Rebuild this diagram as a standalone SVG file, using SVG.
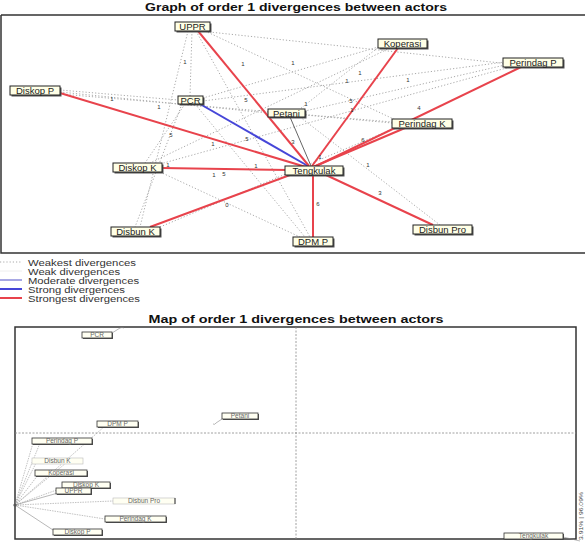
<svg xmlns="http://www.w3.org/2000/svg" width="585" height="544" viewBox="0 0 585 544">
<style>
.title{font-family:"Liberation Sans",Arial,sans-serif;font-weight:bold;font-size:11px;fill:#111}
.nb{fill:#ffffe6;stroke:#222;stroke-width:1}
.sh{fill:#555}
.nt{font-family:"Liberation Sans",Arial,sans-serif;font-size:9.5px;fill:#222;text-anchor:middle}
.nb2{fill:#fffff2;stroke:#333;stroke-width:0.8}
.nt2{font-family:"Liberation Sans",Arial,sans-serif;font-size:6.5px;fill:#666;text-anchor:middle}
.dot{stroke:#aaa;stroke-width:1;stroke-dasharray:1.2 2;fill:none}
.red{stroke:#e8434c;stroke-width:2;fill:none}
.blue{stroke:#4646d8;stroke-width:2;fill:none}
.gray{stroke:#666;stroke-width:1;fill:none}
.el{font-family:"Liberation Sans",Arial,sans-serif;font-size:6px;fill:#333;text-anchor:middle}
.lg{font-family:"Liberation Sans",Arial,sans-serif;font-size:8.4px;fill:#333}
.frame{fill:none;stroke:#333;stroke-width:1.5}
.axis{stroke:#888;stroke-width:0.8;stroke-dasharray:2 1.5}
.ml{stroke:#888;stroke-width:0.6;fill:none}
.mld{stroke:#999;stroke-width:0.6;stroke-dasharray:1.5 1;fill:none}
</style>

<text class="title" x="296" y="11" text-anchor="middle" textLength="302" lengthAdjust="spacingAndGlyphs">Graph of order 1 divergences between actors</text>
<path class="frame" d="M1 15 H585 M1 15 V253 H585"/>

<g id="connectors">
 <g id="weakest">
  <line class="dot" x1="192" y1="31" x2="190" y2="96"/>
  <line class="dot" x1="200" y1="31" x2="510" y2="64"/>
  <line class="dot" x1="205" y1="31" x2="400" y2="122"/>
  <line class="dot" x1="188" y1="31" x2="140" y2="227"/>
  <line class="dot" x1="196" y1="31" x2="310" y2="237"/>
  <line class="dot" x1="385" y1="45" x2="203" y2="98"/>
  <line class="dot" x1="390" y1="48" x2="150" y2="163"/>
  <line class="dot" x1="380" y1="46" x2="300" y2="109"/>
  <line class="dot" x1="505" y1="62" x2="203" y2="101"/>
  <line class="dot" x1="505" y1="65" x2="305" y2="111"/>
  <line class="dot" x1="510" y1="67" x2="160" y2="164"/>
  <line class="dot" x1="60" y1="90" x2="178" y2="100"/>
  <line class="dot" x1="60" y1="92" x2="268" y2="113"/>
  <line class="dot" x1="60" y1="94" x2="392" y2="122"/>
  <line class="dot" x1="185" y1="104" x2="145" y2="163"/>
  <line class="dot" x1="182" y1="104" x2="135" y2="227"/>
  <line class="dot" x1="195" y1="104" x2="305" y2="237"/>
  <line class="dot" x1="300" y1="117" x2="440" y2="225"/>
  <line class="dot" x1="305" y1="115" x2="392" y2="123"/>
  <line class="dot" x1="160" y1="172" x2="300" y2="237"/>
  <line class="dot" x1="160" y1="227" x2="395" y2="128"/>
 </g>
 <g id="weak">
  <line class="gray" x1="290" y1="117" x2="311" y2="166"/>
 </g>
 <g id="strong">
  <line class="blue" x1="200" y1="104" x2="308" y2="166"/>
 </g>
 <g id="strongest">
  <line class="red" x1="198" y1="31" x2="309" y2="166"/>
  <line class="red" x1="398" y1="48" x2="312" y2="166"/>
  <line class="red" x1="521" y1="67" x2="314" y2="167"/>
  <line class="red" x1="405" y1="128" x2="313" y2="167"/>
  <line class="red" x1="60" y1="93" x2="306" y2="167"/>
  <line class="red" x1="162" y1="168" x2="288" y2="170"/>
  <line class="red" x1="150" y1="227" x2="290" y2="175"/>
  <line class="red" x1="313" y1="237" x2="313" y2="175"/>
  <line class="red" x1="433" y1="225" x2="326" y2="175"/>
 </g>
 <g id="edge-labels">
  <text class="el" x="185" y="64">1</text>
  <text class="el" x="243" y="66">1</text>
  <text class="el" x="293" y="65">1</text>
  <text class="el" x="360" y="75">1</text>
  <text class="el" x="347" y="83">1</text>
  <text class="el" x="408" y="82">1</text>
  <text class="el" x="112" y="101">1</text>
  <text class="el" x="159" y="109">1</text>
  <text class="el" x="246" y="102">5</text>
  <text class="el" x="306" y="106">1</text>
  <text class="el" x="351" y="103">5</text>
  <text class="el" x="352" y="112">1</text>
  <text class="el" x="419" y="110">4</text>
  <text class="el" x="171" y="137">5</text>
  <text class="el" x="213" y="146">1</text>
  <text class="el" x="247" y="141">5</text>
  <text class="el" x="293" y="144">3</text>
  <text class="el" x="363" y="142">6</text>
  <text class="el" x="320" y="159">1</text>
  <text class="el" x="368" y="167">1</text>
  <text class="el" x="168" y="167">1</text>
  <text class="el" x="256" y="168">1</text>
  <text class="el" x="214" y="177">1</text>
  <text class="el" x="224" y="176">5</text>
  <text class="el" x="227" y="207">0</text>
  <text class="el" x="380" y="195">3</text>
  <text class="el" x="318" y="206">6</text>
 </g>
</g>

<g id="node-uppr"><rect class="sh" x="176.5" y="23.5" width="35" height="9"/><rect class="nb" x="175" y="22" width="35" height="9"/><text class="nt" x="192.5" y="30">UPPR</text></g>
<g id="node-koperasi"><rect class="sh" x="379.5" y="40.5" width="49" height="9"/><rect class="nb" x="378" y="39" width="49" height="9"/><text class="nt" x="402.5" y="47">Koperasi</text></g>
<g id="node-perindag-p"><rect class="sh" x="504.5" y="59.5" width="60" height="9"/><rect class="nb" x="503" y="58" width="60" height="9"/><text class="nt" x="533" y="66">Perindag P</text></g>
<g id="node-diskop-p"><rect class="sh" x="11.5" y="87.5" width="50" height="9"/><rect class="nb" x="10" y="86" width="50" height="9"/><text class="nt" x="35" y="94">Diskop P</text></g>
<g id="node-pcr"><rect class="sh" x="179.5" y="97.5" width="25" height="8"/><rect class="nb" x="178" y="96" width="25" height="8"/><text class="nt" x="190.5" y="103.5">PCR</text></g>
<g id="node-petani"><rect class="sh" x="269.5" y="110.5" width="37" height="8"/><rect class="nb" x="268" y="109" width="37" height="8"/><text class="nt" x="286.5" y="116.5">Petani</text></g>
<g id="node-perindag-k"><rect class="sh" x="393.5" y="120.5" width="60" height="9"/><rect class="nb" x="392" y="119" width="60" height="9"/><text class="nt" x="422" y="127">Perindag K</text></g>
<g id="node-diskop-k"><rect class="sh" x="114.5" y="164.5" width="49" height="9"/><rect class="nb" x="113" y="163" width="49" height="9"/><text class="nt" x="137.5" y="171">Diskop K</text></g>
<g id="node-tengkulak"><rect class="sh" x="286.5" y="167.5" width="58" height="9"/><rect class="nb" x="285" y="166" width="58" height="9"/><text class="nt" x="314" y="174">Tengkulak</text></g>
<g id="node-disbun-k"><rect class="sh" x="112.5" y="228.5" width="49" height="9"/><rect class="nb" x="111" y="227" width="49" height="9"/><text class="nt" x="135.5" y="235">Disbun K</text></g>
<g id="node-dpm-p"><rect class="sh" x="294.5" y="238.5" width="40" height="9"/><rect class="nb" x="293" y="237" width="40" height="9"/><text class="nt" x="313" y="245">DPM P</text></g>
<g id="node-disbun-pro"><rect class="sh" x="414.5" y="226.5" width="59" height="9"/><rect class="nb" x="413" y="225" width="59" height="9"/><text class="nt" x="442.5" y="233">Disbun Pro</text></g>

<g id="legend">
 <line class="dot" x1="0" y1="262" x2="22" y2="262"/>
 <line x1="0" y1="271" x2="22" y2="271" stroke="#eee" stroke-width="1"/>
 <line x1="0" y1="280" x2="22" y2="280" stroke="#5050c8" stroke-width="1"/>
 <line x1="0" y1="289" x2="22" y2="289" stroke="#4646d8" stroke-width="2"/>
 <line x1="0" y1="298" x2="22" y2="298" stroke="#e8434c" stroke-width="2"/>
 <text class="lg" x="28" y="265.5" textLength="108" lengthAdjust="spacingAndGlyphs">Weakest divergences</text>
 <text class="lg" x="28" y="274.5" textLength="92" lengthAdjust="spacingAndGlyphs">Weak divergences</text>
 <text class="lg" x="28" y="283.5" textLength="111" lengthAdjust="spacingAndGlyphs">Moderate divergences</text>
 <text class="lg" x="28" y="292.5" textLength="97" lengthAdjust="spacingAndGlyphs">Strong divergences</text>
 <text class="lg" x="28" y="301.5" textLength="112" lengthAdjust="spacingAndGlyphs">Strongest divergences</text>
</g>

<text class="title" x="296" y="323" text-anchor="middle" textLength="295" lengthAdjust="spacingAndGlyphs">Map of order 1 divergences between actors</text>
<rect class="frame" x="15" y="327" width="561" height="212"/>
<line class="axis" x1="296" y1="327" x2="296" y2="539"/>
<line class="axis" x1="15" y1="433" x2="576" y2="433"/>
<text transform="translate(583,540) rotate(-90)" font-family="'Liberation Sans',Arial,sans-serif" font-size="6" fill="#444" textLength="48" lengthAdjust="spacingAndGlyphs">3.91% | 96.09%</text>

<g id="map-connectors">
 <path class="ml" d="M112 333 L120 328 q2 -1 4 0"/>
 <path class="ml" d="M222 419 L216 423 q-1 2 -3 1"/>
 <line class="ml" x1="563" y1="537" x2="580" y2="541"/>
 <line class="mld" x1="15" y1="505" x2="105" y2="426"/>
 <line class="mld" x1="15" y1="505" x2="33" y2="443"/>
 <line class="mld" x1="15" y1="505" x2="40" y2="443"/>
 <line class="mld" x1="15" y1="505" x2="66" y2="463"/>
 <line class="mld" x1="15" y1="505" x2="36" y2="463"/>
 <line class="mld" x1="15" y1="505" x2="38" y2="475"/>
 <line class="mld" x1="15" y1="505" x2="65" y2="487"/>
 <line class="ml" x1="15" y1="505" x2="58" y2="493"/>
 <line class="mld" x1="15" y1="505" x2="113" y2="501"/>
 <line class="mld" x1="15" y1="505" x2="105" y2="519"/>
 <line class="ml" x1="15" y1="505" x2="53" y2="530"/>
 <circle cx="15" cy="505" r="1.6" fill="#555"/>
</g>

<g id="map-pcr"><rect class="sh" x="83" y="333" width="30" height="6"/><rect class="nb2" x="82" y="332" width="30" height="6"/><text class="nt2" x="97" y="337.3">PCR</text></g>
<g id="map-petani"><rect class="sh" x="223" y="414" width="36" height="6"/><rect class="nb2" x="222" y="413" width="36" height="6"/><text class="nt2" x="240" y="418.3">Petani</text></g>
<g id="map-dpm-p"><rect class="sh" x="98" y="422" width="41" height="6"/><rect class="nb2" x="97" y="421" width="41" height="6"/><text class="nt2" x="117.5" y="426.3">DPM P</text></g>
<g id="map-perindag-p"><rect class="sh" x="33" y="439" width="60" height="6"/><rect class="nb2" x="32" y="438" width="60" height="6"/><text class="nt2" x="62" y="443.3">Perindag P</text></g>
<g id="map-disbun-k"><rect x="32" y="458" width="51" height="6" fill="#fffff2" stroke="#bbb" stroke-width="0.6"/><text class="nt2" x="57.5" y="463.3">Disbun K</text></g>
<g id="map-koperasi"><rect class="sh" x="36" y="471" width="52" height="6"/><rect class="nb2" x="35" y="470" width="52" height="6"/><text class="nt2" x="61" y="475.3">Koperasi</text></g>
<g id="map-diskop-k"><rect class="sh" x="63" y="483" width="48" height="6"/><rect class="nb2" x="62" y="482" width="48" height="6"/><text class="nt2" x="86" y="487.3">Diskop K</text></g>
<g id="map-uppr"><rect class="sh" x="57" y="489" width="35" height="6"/><rect class="nb2" x="56" y="488" width="35" height="6"/><text class="nt2" x="73.5" y="493.3">UPPR</text></g>
<g id="map-disbun-pro"><rect x="113" y="498" width="62" height="6" fill="#fffff2" stroke="#bbb" stroke-width="0.6"/><line x1="175" y1="498" x2="175" y2="504" stroke="#333" stroke-width="1"/><text class="nt2" x="144" y="503.3">Disbun Pro</text></g>
<g id="map-perindag-k"><rect class="sh" x="106" y="517" width="61" height="6"/><rect class="nb2" x="105" y="516" width="61" height="6"/><text class="nt2" x="135.5" y="521.3">Perindag K</text></g>
<g id="map-diskop-p"><rect class="sh" x="54" y="530" width="49" height="6"/><rect class="nb2" x="53" y="529" width="49" height="6"/><text class="nt2" x="77.5" y="534.3">Diskop P</text></g>
<g id="map-tengkulak"><rect class="sh" x="505" y="534" width="59" height="6"/><rect class="nb2" x="504" y="533" width="59" height="6"/><text class="nt2" x="533.5" y="538.3">Tengkulak</text></g>
</svg>
